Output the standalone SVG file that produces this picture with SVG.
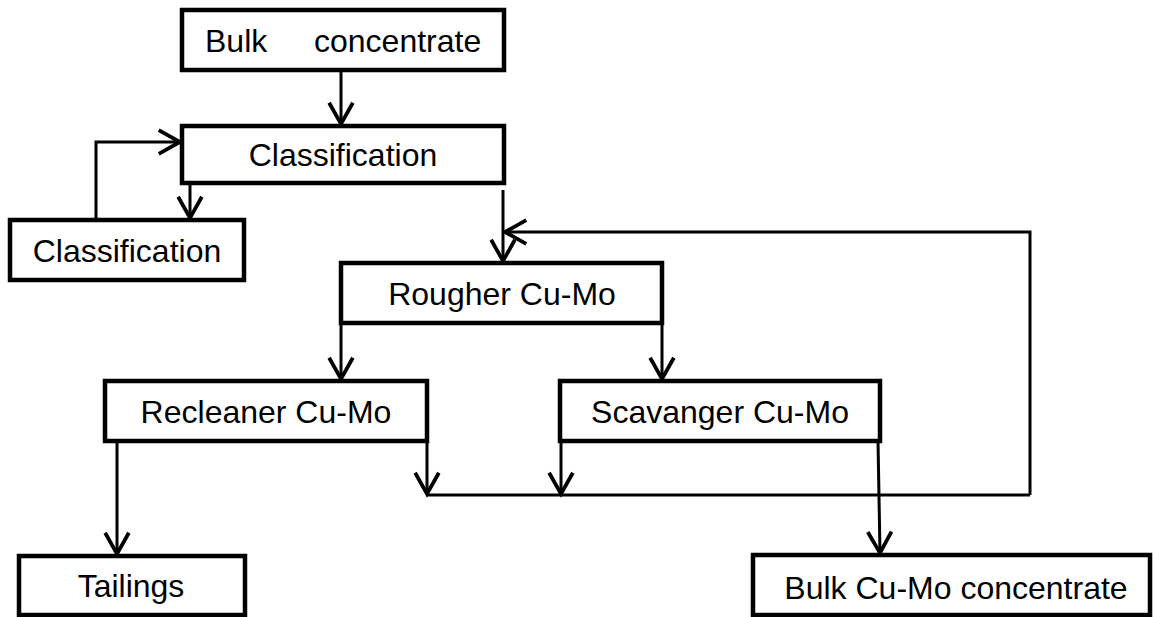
<svg xmlns="http://www.w3.org/2000/svg" width="1153" height="617" viewBox="0 0 1153 617">
<style>
.box{fill:#fff;stroke:#000;stroke-width:4.5;stroke-linejoin:miter}
.lbl{font-family:"Liberation Sans",Arial,sans-serif;font-size:32px;fill:#000}
.c{fill:none;stroke:#000;stroke-width:3;stroke-linejoin:miter}
.a{marker-end:url(#arr)}
</style>
<defs>
<marker id="arr" markerUnits="userSpaceOnUse" markerWidth="30" markerHeight="30" viewBox="-20 -12 24 24" refX="0" refY="0" orient="auto" overflow="visible">
<path d="M -17 -9.5 L 0 0 L -17 9.5" fill="none" stroke="#000" stroke-width="3"/>
</marker>
</defs>
<rect width="1153" height="617" fill="#fff"/>
<g id="connectors">
<path class="c a" d="M341 70 V124"/>
<path class="c a" d="M190 183 V218"/>
<path class="c a" d="M96 220 V142 H180"/>
<path class="c a" d="M503 190 V261"/>
<path class="c a" d="M1030 495 V232 H505"/>
<path class="c a" d="M341 323 V379"/>
<path class="c a" d="M662 323 V379"/>
<path class="c a" d="M117 441 V554"/>
<path class="c a" d="M427 441 V494"/>
<path class="c a" d="M561 441 V494"/>
<path class="c" d="M427 495 H1030"/>
<path class="c a" d="M878 441 L880 553"/>
</g>
<g id="bulk-concentrate">
<rect class="box" x="182" y="10" width="322" height="60"/>
<text class="lbl" x="205" y="52">Bulk</text>
<text class="lbl" x="314" y="52">concentrate</text>
</g>
<g id="classification-main">
<rect class="box" x="182" y="126" width="322" height="57"/>
<text class="lbl" x="343" y="166" text-anchor="middle">Classification</text>
</g>
<g id="classification-left">
<rect class="box" x="10" y="220" width="234" height="60"/>
<text class="lbl" x="127" y="262" text-anchor="middle">Classification</text>
</g>
<g id="rougher">
<rect class="box" x="341" y="263" width="321" height="60"/>
<text class="lbl" x="502" y="305" text-anchor="middle">Rougher Cu-Mo</text>
</g>
<g id="recleaner">
<rect class="box" x="105" y="381" width="322" height="60"/>
<text class="lbl" x="266" y="423" text-anchor="middle">Recleaner Cu-Mo</text>
</g>
<g id="scavanger">
<rect class="box" x="560" y="381" width="320" height="60"/>
<text class="lbl" x="720" y="423" text-anchor="middle">Scavanger Cu-Mo</text>
</g>
<g id="tailings">
<rect class="box" x="19" y="556" width="226" height="59"/>
<text class="lbl" x="131" y="597" text-anchor="middle">Tailings</text>
</g>
<g id="bulk-cumo-concentrate">
<rect class="box" x="753" y="555" width="397" height="60"/>
<text class="lbl" x="956" y="599" text-anchor="middle">Bulk Cu-Mo concentrate</text>
</g>
</svg>
